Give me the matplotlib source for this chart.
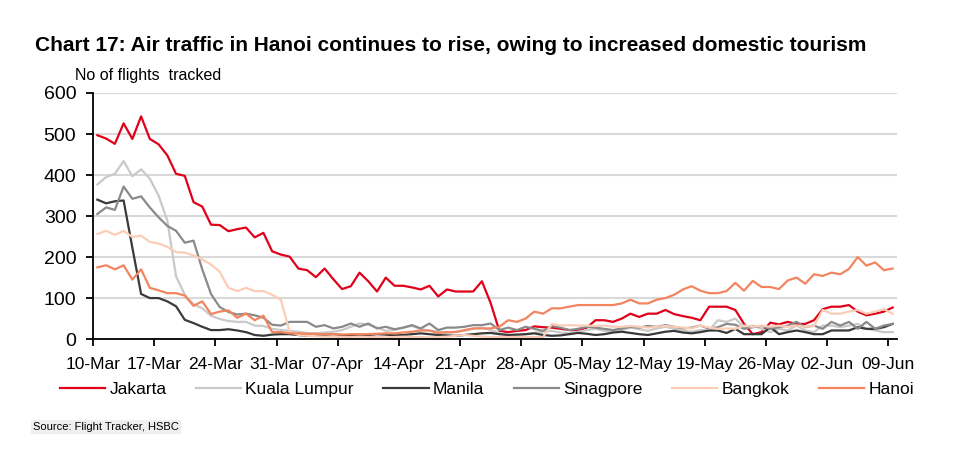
import matplotlib
matplotlib.use("Agg")
import matplotlib.pyplot as plt
import matplotlib.dates as mdates
import pandas as pd

# daily flights tracked, 10-Mar .. 09-Jun
days = pd.date_range("2020-03-10", "2020-06-09")

jakarta = [497, 489, 476, 526, 488, 543, 488, 475, 448, 403,
           398, 334, 323, 279, 278, 263, 268, 272, 248, 259,
           214, 206, 201, 172, 168, 151, 172, 146, 122, 129,
           162, 141, 116, 150, 130, 130, 126, 121, 130, 104,
           121, 116, 116, 116, 141, 88, 20, 17, 20, 22,
           31, 29, 28, 25, 22, 21, 28, 46, 46, 42,
           50, 62, 54, 62, 62, 71, 61, 56, 52, 46,
           79, 79, 79, 71, 37, 12, 17, 40, 36, 42,
           37, 37, 46, 73, 79, 79, 83, 67, 58, 62,
           67, 77]
kuala_lumpur = [377, 395, 403, 434, 397, 414, 391, 350, 289, 153,
                108, 85, 75, 57, 49, 44, 42, 42, 33, 32,
                25, 22, 20, 18, 15, 14, 16, 18, 22, 30,
                38, 35, 28, 20, 22, 28, 32, 25, 20, 18,
                15, 18, 20, 25, 28, 22, 15, 10, 8, 12,
                15, 18, 20, 16, 14, 18, 22, 25, 20, 18,
                22, 28, 24, 20, 26, 30, 25, 20, 18, 22,
                21, 46, 42, 50, 29, 33, 25, 17, 25, 21,
                33, 21, 17, 33, 33, 29, 33, 37, 25, 21,
                17, 17]
manila = [340, 331, 336, 338, 223, 110, 100, 100, 92, 80,
          47, 39, 30, 22, 22, 24, 21, 17, 10, 8,
          11, 12, 12, 10, 8, 8, 10, 12, 10, 9,
          8, 10, 12, 11, 9, 10, 12, 14, 12, 10,
          9, 8, 10, 12, 14, 15, 12, 10, 11, 12,
          14, 10, 8, 9, 12, 15, 13, 10, 12, 16,
          18, 15, 12, 10, 14, 18, 20, 16, 14, 17,
          21, 21, 15, 25, 12, 12, 12, 29, 12, 17,
          21, 17, 12, 12, 21, 21, 21, 29, 25, 25,
          29, 37]
singapore = [305, 321, 315, 372, 342, 348, 321, 297, 276, 264,
             235, 240, 170, 110, 78, 66, 60, 62, 58, 52,
             35, 33, 42, 42, 42, 30, 34, 26, 30, 38,
             30, 38, 26, 30, 24, 28, 34, 26, 38, 22,
             28, 28, 30, 34, 34, 38, 22, 28, 22, 30,
             25, 20, 32, 28, 22, 25, 30, 28, 25, 22,
             26, 30, 28, 32, 30, 34, 30, 26, 28, 33,
             25, 29, 37, 35, 25, 29, 32, 25, 29, 33,
             42, 29, 33, 25, 42, 33, 42, 25, 42, 25,
             33, 37]
bangkok = [256, 264, 254, 264, 249, 252, 237, 233, 225, 212,
           211, 204, 194, 182, 164, 125, 117, 125, 117, 117,
           108, 96, 17, 10, 8, 7, 6, 6, 5, 5,
           6, 5, 5, 4, 5, 6, 5, 5, 4, 5,
           6, 8, 10, 8, 6, 5, 5, 5, 5, 5,
           5, 5, 37, 33, 34, 33, 33, 32, 33, 30,
           30, 32, 30, 28, 30, 32, 30, 28, 26, 33,
           28, 25, 26, 25, 33, 30, 33, 30, 33, 30,
           33, 30, 32, 71, 62, 62, 67, 71, 62, 67,
           73, 62]
hanoi = [175, 180, 170, 180, 145, 170, 125, 119, 112, 112,
         106, 81, 92, 61, 67, 70, 52, 62, 46, 57,
         17, 17, 14, 14, 13, 13, 12, 12, 11, 12,
         12, 12, 13, 14, 14, 16, 18, 21, 21, 15,
         17, 17, 22, 26, 26, 26, 30, 46, 42, 50,
         67, 62, 75, 75, 79, 83, 83, 83, 83, 83,
         87, 96, 87, 87, 96, 100, 108, 121, 129, 118,
         112, 112, 117, 137, 118, 142, 127, 127, 122, 143,
         150, 135, 158, 154, 162, 158, 171, 200, 179, 187,
         168, 172]

series = [
    ("Jakarta", jakarta, "#E1001A"),
    ("Kuala Lumpur", kuala_lumpur, "#C9C9C9"),
    ("Manila", manila, "#3A3A3A"),
    ("Sinagpore", singapore, "#8A8A8A"),
    ("Bangkok", bangkok, "#FBCDB6"),
    ("Hanoi", hanoi, "#F2855F"),
]

plt.rcParams["font.family"] = ["Liberation Sans", "DejaVu Sans"]

fig = plt.figure(figsize=(9.61, 4.57), dpi=100, facecolor="white")
ax = fig.add_axes([0.0968, 0.258, 0.8366, 0.5385])

# Excel-style: each day's point sits in the middle of its slot
xs = days + pd.Timedelta(hours=12)
for name, vals, col in series:
    ax.plot(xs, vals, color=col, lw=1.6, label=name)

ax.set_ylim(0, 600)
ax.set_yticks(range(0, 601, 100))
ax.set_xlim(days[0], days[-1] + pd.Timedelta(days=1))
ticks = pd.date_range("2020-03-10", "2020-06-09", freq="7D")
ax.set_xticks(ticks)
ax.xaxis.set_major_formatter(mdates.DateFormatter("%d-%b"))

ax.grid(axis="y", color="#D9D9D9", lw=1.5)
ax.set_axisbelow(True)
for s in ["top", "right"]:
    ax.spines[s].set_visible(False)
for s in ["left", "bottom"]:
    ax.spines[s].set_linewidth(1.3)
ax.tick_params(axis="both", direction="out", length=5, width=1.3)
ax.tick_params(axis="y", pad=7, labelsize=14)
ax.tick_params(axis="x", pad=8, labelsize=12.5)

fig.text(0.036, 0.9, "Chart 17: Air traffic in Hanoi continues to rise, owing to increased domestic tourism",
         fontweight="bold", fontsize=15, va="center")
fig.text(0.078, 0.834, "No of flights  tracked", fontsize=11.5, va="center")

ax.legend(loc="upper center", bbox_to_anchor=(0.49, -0.112), ncol=6, frameon=False,
          fontsize=12.5, handlelength=2.6, columnspacing=1.7, handletextpad=0.25)

fig.text(0.034, 0.065, "Source: Flight Tracker, HSBC", fontsize=8, va="center",
         bbox=dict(facecolor="#EFEFEF", edgecolor="none", pad=1.5))

fig.savefig("out.png", dpi=100)
